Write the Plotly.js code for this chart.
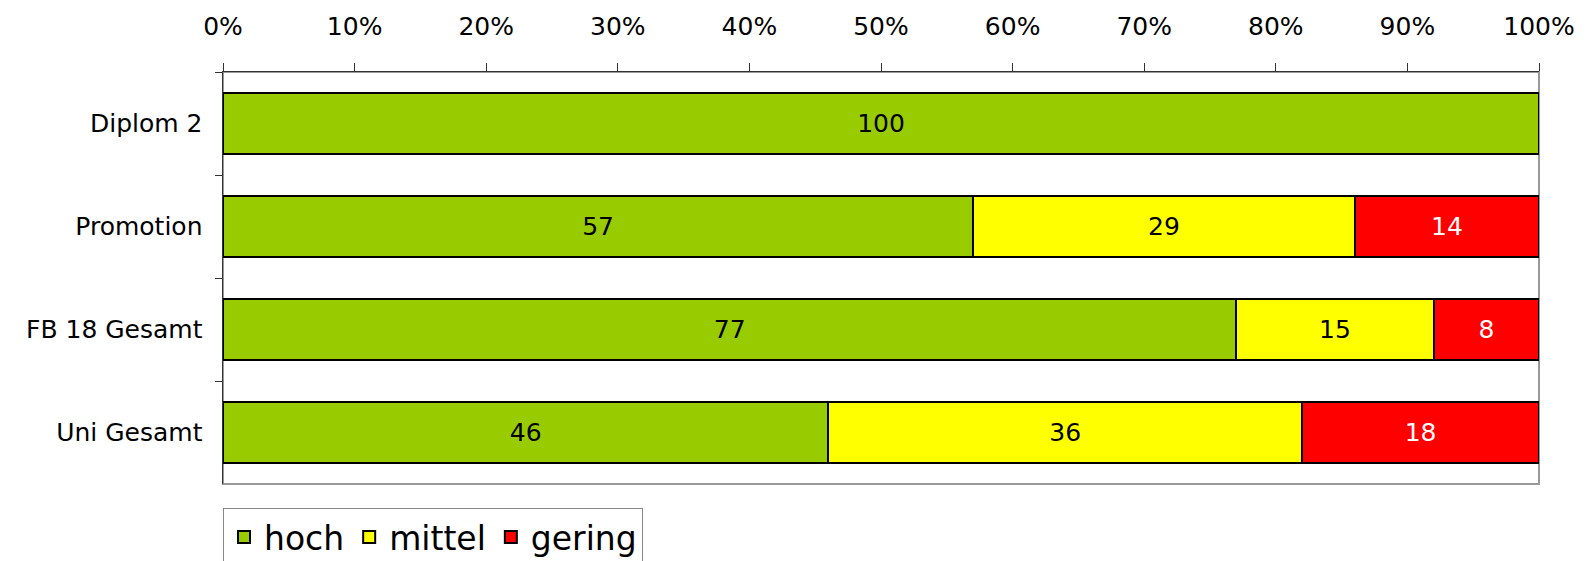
<!DOCTYPE html>
<html>
<head>
<meta charset="utf-8">
<script src="https://cdn.plot.ly/plotly-3.0.1.min.js"></script>
<style>html,body{margin:0;padding:0;background:#fff;}#chart{width:1591px;height:561px;}</style>
</head>
<body>
<div id="chart"></div>
<script>
const categories = ["Diplom 2", "Promotion", "FB 18 Gesamt", "Uni Gesamt"];
const hoch = [100, 57, 77, 46];
const mittel = [0, 29, 15, 36];
const gering = [0, 14, 8, 18];
const seriesNames = ["hoch", "mittel", "gering"];
const seriesColors = ["#99CC00", "#FFFF00", "#FF0000"];
const labelColors = ["#000000", "#000000", "#FFFFFF"];
const tickVals = [0, 10, 20, 30, 40, 50, 60, 70, 80, 90, 100];
const tickText = ["0%", "10%", "20%", "30%", "40%", "50%", "60%", "70%", "80%", "90%", "100%"];

const seriesData = [hoch, mittel, gering];
const traces = seriesData.map((vals, i) => ({
  type: "bar",
  orientation: "h",
  name: seriesNames[i],
  y: categories,
  x: vals,
  text: vals.map(v => v > 0 ? String(v) : ""),
  textposition: "inside",
  insidetextanchor: "middle",
  textangle: 0,
  constraintext: "none",
  textfont: {family: "DejaVu Sans", size: 25, color: labelColors[i]},
  marker: {color: seriesColors[i], line: {color: "#000000", width: 2}},
  hoverinfo: "skip"
}));

const layout = {
  width: 1591,
  height: 561,
  margin: {l: 223, r: 52, t: 72, b: 77},
  paper_bgcolor: "#ffffff",
  plot_bgcolor: "#ffffff",
  barmode: "stack",
  bargap: 0.4,
  font: {family: "DejaVu Sans", size: 25, color: "#000"},
  showlegend: true,
  xaxis: {
    side: "top",
    range: [0, 100],
    tickvals: tickVals,
    ticktext: tickText,
    ticks: "outside",
    ticklen: 8,
    tickcolor: "#333",
    tickwidth: 1,
    showline: true,
    linecolor: "#333",
    linewidth: 1.5,
    showgrid: false,
    zeroline: false,
    ticklabelstandoff: 18,
    tickfont: {family: "DejaVu Sans", size: 25, color: "#000"},
    fixedrange: true
  },
  yaxis: {
    type: "category",
    categoryorder: "array",
    categoryarray: categories,
    autorange: "reversed",
    ticks: "outside",
    tickson: "boundaries",
    ticklen: 7,
    tickcolor: "#333",
    showline: true,
    linecolor: "#333",
    linewidth: 1.5,
    showgrid: false,
    zeroline: false,
    ticklabelstandoff: 14,
    tickfont: {family: "DejaVu Sans", size: 25, color: "#000"},
    fixedrange: true
  },
  shapes: [{
    type: "rect", xref: "x domain", yref: "y domain",
    x0: 0, x1: 1, y0: 0, y1: 1,
    line: {color: "#999", width: 2}, layer: "below"
  }],
  legend: {
    orientation: "h",
    xref: "container", yref: "container",
    x: 223 / 1591, xanchor: "left",
    y: (561 - 508) / 561, yanchor: "top",
    bordercolor: "#888",
    borderwidth: 1,
    font: {family: "DejaVu Sans", size: 33, color: "#000"},
    traceorder: "normal",
    itemwidth: 30
  }
};

Plotly.newPlot("chart", traces, layout, {displayModeBar: false, staticPlot: true});
</script>
</body>
</html>
